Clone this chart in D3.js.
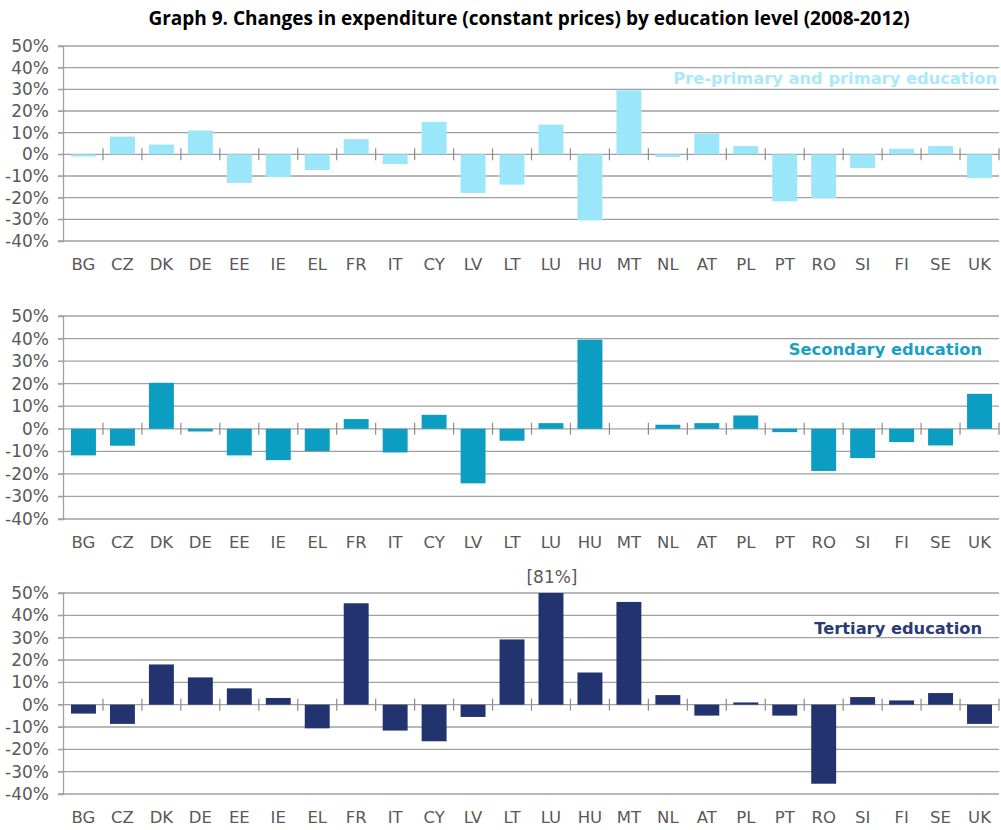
<!DOCTYPE html>
<html>
<head>
<meta charset="utf-8">
<script src="https://cdn.jsdelivr.net/npm/d3@7"></script>
<style>
	body { margin: 0; background: #fff; }
	#container { width: 1001px; height: 830px; }
</style>
</head>
<body>
<div id="container"></div>
<script>
const countries = ["BG", "CZ", "DK", "DE", "EE", "IE", "EL", "FR", "IT", "CY", "LV", "LT",
	"LU", "HU", "MT", "NL", "AT", "PL", "PT", "RO", "SI", "FI", "SE", "UK"];

// % change 2008-2012
const primaryValues = [-1, 8.2, 4.5, 11, -13.2, -10.5, -7.2, 7, -4.5, 15, -17.8, -14,
	13.7, -30.5, 29.5, -1.2, 9.5, 3.8, -21.7, -20.2, -6.3, 2.6, 3.8, -11];
const secondaryValues = [-11.8, -7.5, 20.4, -1.2, -11.8, -13.9, -9.9, 4.3, -10.5, 6.2, -24.2, -5.3,
	2.5, 39.5, 0, 1.8, 2.5, 5.9, -1.5, -18.7, -13, -5.9, -7.4, 15.5];
const tertiaryValues = [-4, -8.6, 18, 12.2, 7.3, 3, -10.6, 45.4, -11.6, -16.4, -5.5, 29.2,
	81, 14.4, 46, 4.3, -4.9, 1, -4.9, -35.4, 3.4, 1.9, 5.2, -8.6];

const yTicks = [50, 40, 30, 20, 10, 0, -10, -20, -30, -40];
const panelNames = ["Pre-primary and primary education", "Secondary education", "Tertiary education"];
const offScaleLabel = "[81%]";
const titleText = "Graph 9. Changes in expenditure (constant prices) by education level (2008-2012)";

const width = 1001;
const height = 830;

const panels = [
	{ values: primaryValues, name: panelNames[0], top: 46, bottom: 241, color: "#9be6f9", textColor: "#a9e9f9", legendX: 997, legendY: 84 },
	{ values: secondaryValues, name: panelNames[1], top: 316, bottom: 519, color: "#0c9dc3", textColor: "#1a9fc4", legendX: 982, legendY: 355 },
	{ values: tertiaryValues, name: panelNames[2], top: 593, bottom: 794, color: "#22336f", textColor: "#2a3a76", legendX: 982, legendY: 634 },
];

const svg = d3.select("#container")
	.append("svg")
	.attr("width", width)
	.attr("height", height);

svg.append("text")
	.attr("x", 529)
	.attr("y", 25)
	.attr("text-anchor", "middle")
	.attr("font-family", "'Open Sans', sans-serif")
	.attr("font-weight", "bold")
	.attr("font-size", 19)
	.attr("fill", "#000")
	.text(titleText);

const x = d3.scaleBand()
	.domain(countries)
	.range([64, 999])
	.paddingInner(0.36)
	.paddingOuter(0.18);

panels.forEach((p, idx) => drawPanel(p, idx));

function drawPanel(p, idx) {
	const g = svg.append("g").attr("class", "panel-" + idx);

	const y = d3.scaleLinear()
		.domain([-40, 50])
		.range([p.bottom, p.top])
		.clamp(true);

	// gridlines
	g.append("g")
		.selectAll("line")
		.data(yTicks)
		.enter()
		.append("line")
		.attr("x1", 58)
		.attr("x2", 999)
		.attr("y1", (d) => y(d))
		.attr("y2", (d) => y(d))
		.attr("stroke", "#a0a0a0")
		.attr("stroke-width", 1.3);

	// y axis
	const yAxis = d3.axisLeft(y)
		.tickValues(yTicks)
		.tickFormat((d) => d + "%")
		.tickSize(5)
		.tickPadding(8);

	const ya = g.append("g")
		.attr("transform", `translate(63, 0)`)
		.call(yAxis);
	ya.select(".domain").attr("stroke", "#a0a0a0").attr("stroke-width", 1.3);
	ya.selectAll(".tick line").attr("stroke", "#a0a0a0");
	ya.selectAll(".tick text")
		.attr("font-family", "'DejaVu Sans', Verdana, sans-serif")
		.attr("font-size", 17)
		.attr("fill", "#595959")
		.attr("x", -14);

	// bars
	g.append("g")
		.selectAll("rect")
		.data(p.values)
		.enter()
		.append("rect")
		.attr("x", (d, i) => x(countries[i]))
		.attr("width", x.bandwidth())
		.attr("y", (d) => y(Math.max(d, 0)))
		.attr("height", (d) => Math.abs(y(d) - y(0)))
		.attr("fill", p.color);

	// category tick marks on the zero line
	g.append("g")
		.selectAll("line")
		.data(countries)
		.enter()
		.append("line")
		.attr("x1", (d) => x(d) + x.bandwidth() + x.step() * x.paddingInner() / 2)
		.attr("x2", (d) => x(d) + x.bandwidth() + x.step() * x.paddingInner() / 2)
		.attr("y1", y(0) - 6)
		.attr("y2", y(0) + 6)
		.attr("stroke", "#8c8c8c")
		.attr("stroke-width", 1.2);

	// category labels
	g.append("g")
		.selectAll("text")
		.data(countries)
		.enter()
		.append("text")
		.attr("x", (d) => x(d) + x.bandwidth() / 2)
		.attr("y", p.bottom + 29)
		.attr("text-anchor", "middle")
		.attr("font-family", "'DejaVu Sans', Verdana, sans-serif")
		.attr("font-size", 16.5)
		.attr("fill", "#595959")
		.text((d) => d);

	// series name
	g.append("text")
		.attr("x", p.legendX)
		.attr("y", p.legendY)
		.attr("text-anchor", "end")
		.attr("font-family", "'DejaVu Sans', Verdana, sans-serif")
		.attr("font-weight", "bold")
		.attr("font-size", 16.3)
		.attr("fill", p.textColor)
		.text(p.name);

	// values beyond the axis get a bracket label
	if (idx === 2) {
		g.selectAll(".off")
			.data(p.values.filter((d) => d > 50))
			.enter()
			.append("text")
			.attr("x", x("LU") + x.bandwidth() / 2 + 1)
			.attr("y", p.top - 10)
			.attr("text-anchor", "middle")
			.attr("font-family", "'DejaVu Sans', Verdana, sans-serif")
			.attr("font-size", 17)
			.attr("fill", "#595959")
			.text(offScaleLabel);
	}
}
</script>
</body>
</html>
